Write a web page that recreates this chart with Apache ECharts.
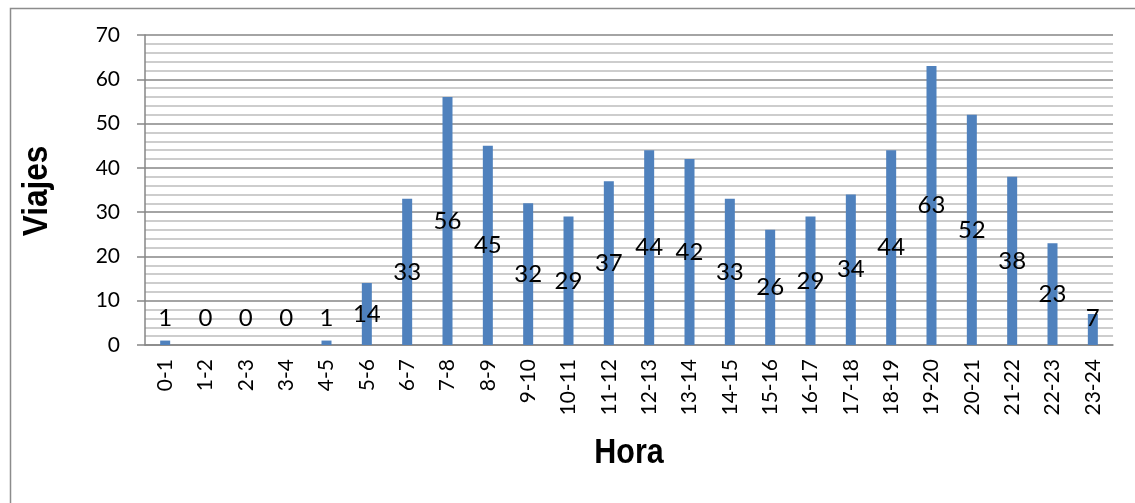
<!DOCTYPE html>
<html>
<head>
<meta charset="utf-8">
<script src="https://cdn.jsdelivr.net/npm/echarts@6/dist/echarts.min.js"></script>
<style>
  html, body { margin: 0; padding: 0; background: #fff; }
  #grafico { width: 1135px; height: 503px; }
</style>
</head>
<body>
<div id="grafico"></div>
<script>
// datos del grafico
var horas = ['0-1','1-2','2-3','3-4','4-5','5-6','6-7','7-8','8-9','9-10','10-11','11-12',
             '12-13','13-14','14-15','15-16','16-17','17-18','18-19','19-20','20-21','21-22','22-23','23-24'];
var viajes = [1, 0, 0, 0, 1, 14, 33, 56, 45, 32, 29, 37, 44, 42, 33, 26, 29, 34, 44, 63, 52, 38, 23, 7];
var ticksY = [0, 10, 20, 30, 40, 50, 60, 70];

var fuente = 'Lato, "Open Sans", sans-serif';
var fuenteTitulo = '"Liberation Sans", Arial, sans-serif';

// barras pequenas: la etiqueta se queda un poco arriba (como en Excel)
var datos = viajes.map(function (v) {
    if (v < 13) {
        return { value: v, label: { position: 'insideBottom', distance: 15 } };
    }
    return v;
});

var chart = echarts.init(document.getElementById('grafico'));
var option = {
    animation: false,
    graphic: [{
        type: 'rect',
        left: 8, top: 6,
        shape: { width: 1140, height: 520 },
        style: { fill: 'none', stroke: '#8c8c8c', lineWidth: 1.5 },
        z: -1
    }, {
        // titulo eje X (letra estrecha)
        type: 'text',
        x: 629, y: 453,
        scaleX: 0.87,
        style: {
            text: 'Hora', font: 'bold 35px ' + fuenteTitulo, fill: '#000',
            align: 'center', verticalAlign: 'middle'
        }
    }, {
        // titulo eje Y
        type: 'text',
        x: 37, y: 191,
        rotation: Math.PI / 2,
        scaleX: 0.9,
        style: {
            text: 'Viajes', font: 'bold 35px ' + fuenteTitulo, fill: '#000',
            align: 'center', verticalAlign: 'middle'
        }
    }],
    grid: { left: 145, right: 22, top: 35, bottom: 158 },
    xAxis: {
        type: 'category',
        data: horas,
        axisLine: { lineStyle: { color: '#868686', width: 1.5 } },
        axisTick: { show: false },
        axisLabel: { rotate: 90, margin: 14, fontFamily: fuente, fontSize: 21, color: '#000', interval: 0 }
    },
    yAxis: {
        type: 'value',
        min: ticksY[0],
        max: ticksY[ticksY.length - 1],
        interval: 10,
        axisLine: { show: true, lineStyle: { color: '#868686', width: 1.5 } },
        axisTick: { show: true, length: 8, lineStyle: { color: '#868686', width: 1.5 } },
        axisLabel: { margin: 25, fontFamily: fuente, fontSize: 21, color: '#000' },
        splitLine: { lineStyle: { color: '#868686', width: 1.5 } },
        minorTick: { show: false, splitNumber: 5 },
        minorSplitLine: { show: true, lineStyle: { color: '#bdbdbd', width: 1.5 } }
    },
    series: [{
        type: 'bar',
        data: datos,
        barWidth: 10,
        itemStyle: { color: '#4f81bd' },
        label: {
            show: true,
            position: 'inside',
            fontFamily: fuente,
            fontSize: 24,
            color: '#000'
        }
    }]
};
chart.setOption(option);
</script>
</body>
</html>
